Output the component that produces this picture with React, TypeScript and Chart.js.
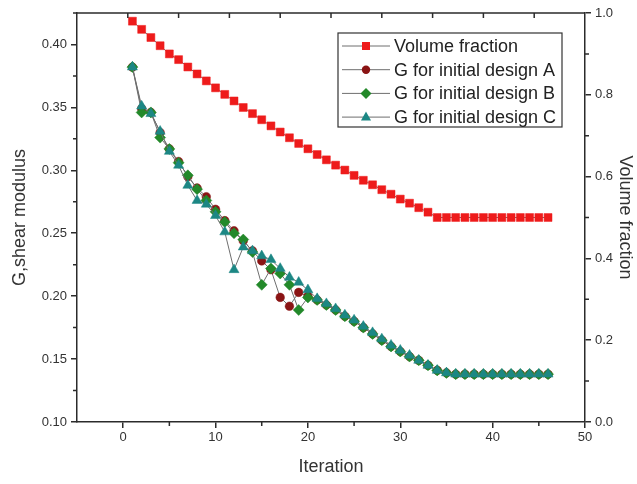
import React, { useEffect, useRef } from 'react';
import { Chart, registerables } from 'chart.js';

Chart.register(...registerables);

const FONT = "'Liberation Sans', Arial, sans-serif";

const iterations = [
  1, 2, 3, 4, 5, 6, 7, 8, 9, 10, 11, 12, 13, 14, 15, 16, 17, 18, 19, 20, 21, 22, 23,
  24, 25, 26, 27, 28, 29, 30, 31, 32, 33, 34, 35, 36, 37, 38, 39, 40, 41, 42, 43, 44,
  45, 46,
];

const volumeFraction = [
  0.98, 0.96, 0.94, 0.92, 0.9, 0.886, 0.868, 0.851, 0.834, 0.817, 0.801, 0.785, 0.769,
  0.754, 0.739, 0.724, 0.709, 0.695, 0.681, 0.668, 0.654, 0.641, 0.628, 0.616, 0.603,
  0.591, 0.58, 0.568, 0.557, 0.545, 0.535, 0.524, 0.513, 0.5, 0.5, 0.5, 0.5, 0.5, 0.5,
  0.5, 0.5, 0.5, 0.5, 0.5, 0.5, 0.5,
];

const gDesignA = [
  0.382, 0.349, 0.346, 0.33, 0.317, 0.307, 0.295, 0.286, 0.279, 0.269, 0.26, 0.252, 0.244,
  0.236, 0.228, 0.221, 0.199, 0.192, 0.203, 0.2, 0.197, 0.193, 0.189, 0.184, 0.18, 0.175,
  0.17, 0.165, 0.16, 0.156, 0.152, 0.149, 0.145, 0.141, 0.139, 0.138, 0.138, 0.138, 0.138,
  0.138, 0.138, 0.138, 0.138, 0.138, 0.138, 0.138,
];

const gDesignB = [
  0.382, 0.346, 0.346, 0.326, 0.317, 0.306, 0.296, 0.285, 0.276, 0.267, 0.259, 0.25, 0.245,
  0.235, 0.209, 0.222, 0.218, 0.209, 0.189, 0.199, 0.197, 0.193, 0.189, 0.184, 0.18, 0.175,
  0.17, 0.165, 0.16, 0.156, 0.152, 0.149, 0.145, 0.141, 0.139, 0.138, 0.138, 0.138, 0.138,
  0.138, 0.138, 0.138, 0.138, 0.138, 0.138, 0.138,
];

const gDesignC = [
  0.382, 0.351, 0.345, 0.331, 0.315, 0.304, 0.288, 0.276, 0.273, 0.264, 0.251, 0.221, 0.239,
  0.236, 0.232, 0.229, 0.222, 0.215, 0.211, 0.205, 0.198, 0.194, 0.19, 0.185, 0.181, 0.176,
  0.171, 0.166, 0.161, 0.157, 0.153, 0.149, 0.145, 0.141, 0.139, 0.138, 0.138, 0.138, 0.138,
  0.138, 0.138, 0.138, 0.138, 0.138, 0.138, 0.138,
];

const seriesLabels = [
  'Volume fraction',
  'G for initial design A',
  'G for initial design B',
  'G for initial design C',
];

const xTicks = [0, 10, 20, 30, 40, 50];
const gTicks = [0.1, 0.15, 0.2, 0.25, 0.3, 0.35, 0.4];
const vTicks = [0, 0.2, 0.4, 0.6, 0.8, 1.0];

const COLORS = {
  volume: '#ee1b1b',
  a: '#8a1414',
  b: '#23892a',
  c: '#1c8784',
  line: '#6e6e6e',
  axis: '#2b2b2b',
  text: '#333333',
};

const toXY = (vals: number[]) => iterations.map((x, i) => ({ x, y: vals[i] }));

const midpoints = (arr: number[]) => arr.slice(1).map((v, i) => (v + arr[i]) / 2);

function drawMarker(ctx: CanvasRenderingContext2D, kind: string, x: number, y: number, color: string) {
  ctx.save();
  ctx.fillStyle = color;
  ctx.beginPath();
  if (kind === 'rect') {
    ctx.rect(x - 4, y - 4, 8, 8);
  } else if (kind === 'circle') {
    ctx.arc(x, y, 4.2, 0, Math.PI * 2);
  } else if (kind === 'rectRot') {
    ctx.moveTo(x, y - 5.5);
    ctx.lineTo(x + 5.5, y);
    ctx.lineTo(x, y + 5.5);
    ctx.lineTo(x - 5.5, y);
    ctx.closePath();
  } else {
    ctx.moveTo(x, y - 5.5);
    ctx.lineTo(x + 5, y + 3.5);
    ctx.lineTo(x - 5, y + 3.5);
    ctx.closePath();
  }
  ctx.fill();
  ctx.restore();
}

const framePlugin = {
  id: 'originFrame',
  afterDraw(chart: any) {
    const { ctx, chartArea, scales } = chart;
    const { left, right, top, bottom } = chartArea;
    ctx.save();
    ctx.strokeStyle = COLORS.axis;
    ctx.lineWidth = 1.5;
    ctx.beginPath();
    ctx.moveTo(left, top);
    ctx.lineTo(right, top);
    for (let i = 1; i < 10; i++) {
      const px = left + ((right - left) * i) / 10;
      ctx.moveTo(px, top);
      ctx.lineTo(px, top + 5);
    }
    midpoints(xTicks).forEach((v) => {
      const px = scales.x.getPixelForValue(v);
      ctx.moveTo(px, bottom);
      ctx.lineTo(px, bottom + 4);
    });
    [...midpoints(gTicks), 0.425].forEach((v) => {
      const py = scales.y.getPixelForValue(v);
      ctx.moveTo(left, py);
      ctx.lineTo(left - 4, py);
    });
    midpoints(vTicks).forEach((v) => {
      const py = scales.y2.getPixelForValue(v);
      ctx.moveTo(right, py);
      ctx.lineTo(right + 4, py);
    });
    ctx.stroke();

    const bx = 338;
    const by = 33;
    const bw = 224;
    const bh = 94;
    ctx.fillStyle = '#ffffff';
    ctx.fillRect(bx, by, bw, bh);
    ctx.lineWidth = 1.2;
    ctx.strokeStyle = '#333';
    ctx.strokeRect(bx, by, bw, bh);
    const kinds = ['rect', 'circle', 'rectRot', 'triangle'];
    const cols = [COLORS.volume, COLORS.a, COLORS.b, COLORS.c];
    ctx.font = `18px ${FONT}`;
    ctx.textBaseline = 'middle';
    ctx.textAlign = 'left';
    seriesLabels.forEach((label, i) => {
      const ry = by + 13 + i * 23.7;
      ctx.strokeStyle = COLORS.line;
      ctx.lineWidth = 1;
      ctx.beginPath();
      ctx.moveTo(bx + 4, ry);
      ctx.lineTo(bx + 52, ry);
      ctx.stroke();
      drawMarker(ctx, kinds[i], bx + 28, ry, cols[i]);
      ctx.fillStyle = '#222';
      ctx.fillText(label, bx + 56, ry + 1);
    });
    ctx.restore();
  },
};

export default function App() {
  const canvasRef = useRef<HTMLCanvasElement | null>(null);

  useEffect(() => {
    const canvas = canvasRef.current;
    if (!canvas) return;
    const tickFont = { family: FONT, size: 13 };
    const titleFont = { family: FONT, size: 18 };
    const grid = {
      display: true,
      drawOnChartArea: false,
      drawTicks: true,
      tickLength: 6,
      color: COLORS.axis,
      lineWidth: 1.5,
    };
    const border = { display: true, color: COLORS.axis, width: 1.5 };

    const chart = new Chart(canvas, {
      type: 'line',
      data: {
        datasets: [
          {
            label: seriesLabels[0],
            data: toXY(volumeFraction),
            yAxisID: 'y2',
            borderColor: COLORS.line,
            borderWidth: 1,
            pointStyle: 'rect',
            pointRadius: 5.6,
            pointBackgroundColor: COLORS.volume,
            pointBorderColor: COLORS.volume,
            pointBorderWidth: 0.5,
            order: 4,
          },
          {
            label: seriesLabels[1],
            data: toXY(gDesignA),
            yAxisID: 'y',
            borderColor: COLORS.line,
            borderWidth: 1,
            pointStyle: 'circle',
            pointRadius: 4.3,
            pointBackgroundColor: COLORS.a,
            pointBorderColor: COLORS.a,
            pointBorderWidth: 0.5,
            order: 3,
          },
          {
            label: seriesLabels[2],
            data: toXY(gDesignB),
            yAxisID: 'y',
            borderColor: COLORS.line,
            borderWidth: 1,
            pointStyle: 'rectRot',
            pointRadius: 5.5,
            pointBackgroundColor: COLORS.b,
            pointBorderColor: COLORS.b,
            pointBorderWidth: 0.5,
            order: 2,
          },
          {
            label: seriesLabels[3],
            data: toXY(gDesignC),
            yAxisID: 'y',
            borderColor: COLORS.line,
            borderWidth: 1,
            pointStyle: 'triangle',
            pointRadius: 5.8,
            pointBackgroundColor: COLORS.c,
            pointBorderColor: COLORS.c,
            pointBorderWidth: 0.5,
            order: 1,
          },
        ],
      },
      options: {
        animation: false,
        responsive: false,
        devicePixelRatio: 1,
        layout: { padding: { top: 13, left: 0, right: 0, bottom: 0 } },
        plugins: {
          legend: { display: false },
          tooltip: { enabled: false },
        },
        scales: {
          x: {
            type: 'linear',
            min: -5,
            max: 50,
            afterBuildTicks: (s: any) => {
              s.ticks = xTicks.map((v) => ({ value: v }));
            },
            afterFit: (s: any) => {
              s.height = 62;
            },
            grid,
            border,
            ticks: {
              color: COLORS.text,
              font: tickFont,
              padding: 2,
              maxRotation: 0,
              callback: (v: any) => String(v),
            },
            title: {
              display: true,
              text: 'Iteration',
              color: COLORS.text,
              font: titleFont,
              padding: { top: 0, bottom: 6 },
            },
          },
          y: {
            type: 'linear',
            position: 'left',
            min: 0.1,
            max: 0.425,
            afterBuildTicks: (s: any) => {
              s.ticks = gTicks.map((v) => ({ value: v }));
            },
            afterFit: (s: any) => {
              s.width = 77;
            },
            grid,
            border,
            ticks: {
              color: COLORS.text,
              font: tickFont,
              padding: 4,
              callback: (v: any) => Number(v).toFixed(2),
            },
            title: {
              display: true,
              text: 'G,shear modulus',
              color: COLORS.text,
              font: titleFont,
              padding: { top: 9, bottom: 0 },
            },
          },
          y2: {
            type: 'linear',
            position: 'right',
            min: 0,
            max: 1,
            afterBuildTicks: (s: any) => {
              s.ticks = vTicks.map((v) => ({ value: v }));
            },
            afterFit: (s: any) => {
              s.width = 52;
            },
            grid,
            border,
            ticks: {
              color: COLORS.text,
              font: tickFont,
              padding: 4,
              callback: (v: any) => Number(v).toFixed(1),
            },
            title: {
              display: true,
              text: 'Volume fraction',
              color: COLORS.text,
              font: titleFont,
              padding: { top: 1, bottom: 0 },
            },
          },
        },
      },
      plugins: [framePlugin],
    } as any);

    return () => chart.destroy();
  }, []);

  return (
    <div style={{ position: 'absolute', left: 0, top: 0, width: 637, height: 484, background: '#fff' }}>
      <canvas ref={canvasRef} width={637} height={484} style={{ display: 'block' }} />
    </div>
  );
}
